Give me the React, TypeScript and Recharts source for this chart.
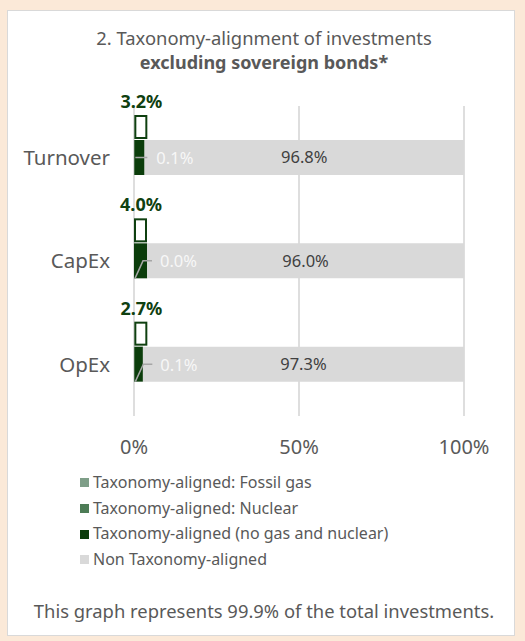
import React from "react";
import { BarChart, Bar, XAxis, YAxis, CartesianGrid, LabelList } from "recharts";

const categories = ["Turnover", "CapEx", "OpEx"];
const fossilGas = [0.0, 0.0, 0.0];
const nuclear = [0.1, 0.0, 0.1];
const alignedOther = [3.1, 4.0, 2.6];
const nonAligned = [96.8, 96.0, 97.3];
const xTicks = [0, 50, 100];

const seriesNames = [
  "Taxonomy-aligned: Fossil gas",
  "Taxonomy-aligned: Nuclear",
  "Taxonomy-aligned (no gas and nuclear)",
  "Non Taxonomy-aligned",
];
const seriesColors = ["#7e9e88", "#4d7c56", "#0b3d0b", "#d9d9d9"];

const FONT = "'Noto Sans', sans-serif";
const GRAY_TEXT = "#595959";
const DARK_GREEN = "#0f4010";

const rows = categories.map((name, i) => ({
  name,
  gas: fossilGas[i],
  nuclear: nuclear[i],
  aligned: alignedOther[i],
  non: nonAligned[i],
  total: fossilGas[i] + nuclear[i] + alignedOther[i],
}));

// leader line shape for the small gas/nuclear label (bent from bar bottom except the first)
const bentLeader = [false, true, true];

const box = (p: any) => {
  const vb = p.viewBox || {};
  return {
    x: p.x ?? vb.x,
    y: p.y ?? vb.y,
    width: p.width ?? vb.width,
    height: p.height ?? vb.height,
  };
};

const TotalLabel = (props: any) => {
  const { x, y } = box(props);
  const value = Number(props.value);
  return (
    <g>
      <rect x={x + 1} y={y - 24} width={11} height={22} fill="#ffffff" stroke={DARK_GREEN} strokeWidth={2} />
      <text
        x={x + 7}
        y={y - 39}
        textAnchor="middle"
        dominantBaseline="central"
        fill={DARK_GREEN}
        fontSize={18}
        fontWeight={700}
        fontFamily={FONT}
      >
        {value.toFixed(1)}%
      </text>
    </g>
  );
};

const SmallLabel = (props: any) => {
  const { x, y, height } = box(props);
  const value = Number(props.value);
  const cy = y + height / 2;
  const bent = bentLeader[props.index ?? 0];
  const points = bent
    ? `${x + 1},${y + height} ${x + 9},${cy} ${x + 18},${cy}`
    : `${x + 1},${cy} ${x + 13},${cy}`;
  return (
    <g>
      <polyline points={points} fill="none" stroke="#a6a6a6" strokeWidth={1.5} />
      <text
        x={x + (bent ? 26 : 22)}
        y={cy}
        dominantBaseline="central"
        fill="#f7f7f7"
        fontSize={16.5}
        fontFamily={FONT}
      >
        {value.toFixed(1)}%
      </text>
    </g>
  );
};

export default function App() {
  return (
    <div style={{ position: "absolute", left: 0, top: 0, width: 525, height: 641, background: "#fbe9d8", fontFamily: FONT }}>
      <div
        style={{
          position: "absolute",
          left: 7,
          top: 10,
          width: 506,
          height: 624,
          background: "#ffffff",
          border: "1px solid #d9d9d9",
        }}
      />
      <div style={{ position: "absolute", left: 0, top: 25, width: 528, textAlign: "center", color: GRAY_TEXT, fontSize: 18.4, lineHeight: "25px" }}>
        <div>2. Taxonomy-alignment of investments</div>
        <div style={{ fontWeight: 700, fontSize: 18 }}>excluding sovereign bonds*</div>
      </div>

      <div style={{ position: "absolute", left: 0, top: 0 }}>
        <BarChart
          width={525}
          height={641}
          layout="vertical"
          data={rows}
          margin={{ top: 106, right: 61, bottom: 195, left: 0 }}
          barSize={35}
        >
          <CartesianGrid horizontal={false} stroke="#dedede" strokeWidth={2} />
          <XAxis
            type="number"
            domain={[0, 100]}
            ticks={xTicks}
            tickFormatter={(v: number) => `${v}%`}
            axisLine={false}
            tickLine={false}
            tickSize={0}
            tickMargin={24}
            height={30}
            tick={{ fill: GRAY_TEXT, fontSize: 20, fontFamily: FONT }}
          />
          <YAxis
            type="category"
            dataKey="name"
            width={134}
            axisLine={false}
            tickLine={false}
            tickSize={0}
            tickMargin={24}
            tick={{ fill: GRAY_TEXT, fontSize: 20.5, fontFamily: FONT }}
          />
          <Bar dataKey="gas" stackId="a" fill={seriesColors[0]} isAnimationActive={false} />
          <Bar dataKey="nuclear" stackId="a" fill={seriesColors[1]} isAnimationActive={false} />
          <Bar dataKey="aligned" stackId="a" fill={seriesColors[2]} isAnimationActive={false}>
            <LabelList dataKey="nuclear" content={SmallLabel} />
            <LabelList dataKey="total" content={TotalLabel} />
          </Bar>
          <Bar dataKey="non" stackId="a" fill={seriesColors[3]} isAnimationActive={false}>
            <LabelList
              dataKey="non"
              position="center"
              fill="#404040"
              fontSize={16.5}
              fontFamily={FONT}
              formatter={(v: any) => `${Number(v).toFixed(1)}%`}
            />
          </Bar>
        </BarChart>
      </div>

      <div style={{ position: "absolute", left: 80, top: 470, color: GRAY_TEXT, fontSize: 16, lineHeight: "25.7px" }}>
        {seriesNames.map((n, i) => (
          <div key={n} style={{ display: "flex", alignItems: "center" }}>
            <span style={{ display: "inline-block", width: 9, height: 9, background: seriesColors[i], marginRight: 4 }} />
            <span>{n}</span>
          </div>
        ))}
      </div>

      <div style={{ position: "absolute", left: 0, top: 598, width: 528, textAlign: "center", color: GRAY_TEXT, fontSize: 18.4, lineHeight: "26px" }}>
        This graph represents 99.9% of the total investments.
      </div>
    </div>
  );
}
